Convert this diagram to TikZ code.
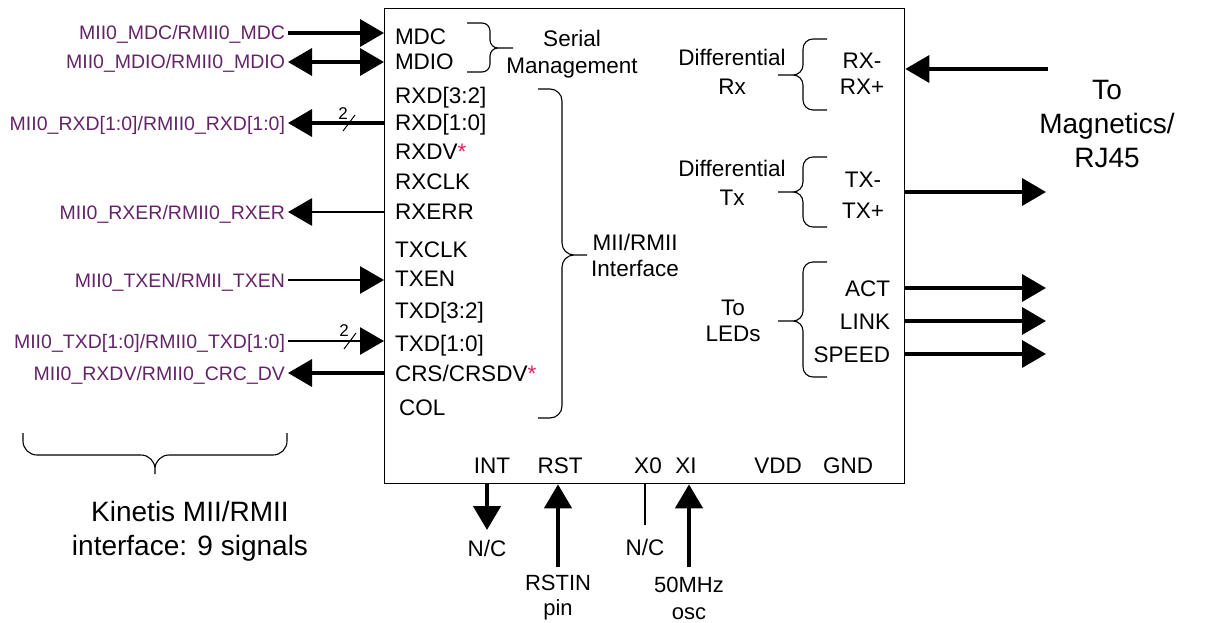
\documentclass[tikz,border=0pt]{standalone}
\usepackage{fontspec}
\setmainfont{Liberation Sans}
\usepackage{xcolor}
\usepackage{tikz}
\usetikzlibrary{positioning, calc, arrows.meta}

\definecolor{sigpurple}{RGB}{100,36,104}
\definecolor{starred}{RGB}{230,30,90}

\tikzset{
  pinlbl/.style={inner sep=0pt, outer sep=0pt, text height=16pt, text depth=0pt,
                 font=\fontsize{22.5}{27}\selectfont},
  siglbl/.style={anchor=east, inner sep=0pt, outer sep=3pt, text height=14pt, text depth=0pt,
                 text=sigpurple, font=\fontsize{19.5}{23}\selectfont},
  note/.style={anchor=north, align=center, inner sep=0pt, font=\fontsize{22.5}{27}\selectfont},
  buswidth/.style={inner sep=0pt, font=\fontsize{17}{17}\selectfont},
  bus/.style={line width=3.5pt},
  wire/.style={line width=2.8pt},
  vbus/.style={line width=4.5pt},
  bracket/.style={line width=1.1pt, rounded corners=10pt},
}

\begin{document}
\begin{tikzpicture}[x=1pt, y=-1pt, >={Triangle[length=24pt,width=27pt]}]
\useasboundingbox (0,0) rectangle (1209,623);

    % --- PHY chip outline ---
    \node[draw, line width=1.3pt, minimum width=520pt, minimum height=475pt,
          inner sep=0pt, anchor=north west] (chip) at (384,8) {};

    % --- Pin names, left column of the chip ---
    \node[pinlbl, anchor=west] (mdc)   at (395,37)  {MDC};
    \node[pinlbl, anchor=west] (mdio)  at (395,62)  {MDIO};
    \node[pinlbl, anchor=west] (rxdhi) at (395,95)  {RXD[3:2]};
    \node[pinlbl, anchor=west] (rxdlo) at (395,123) {RXD[1:0]};
    \node[pinlbl, anchor=west] (rxdv)  at (395,151) {RXDV\textcolor{starred}{*}};
    \node[pinlbl, anchor=west] (rxclk) at (395,181) {RXCLK};
    \node[pinlbl, anchor=west] (rxerr) at (395,211) {RXERR};
    \node[pinlbl, anchor=west] (txclk) at (395,249) {TXCLK};
    \node[pinlbl, anchor=west] (txen)  at (395,278) {TXEN};
    \node[pinlbl, anchor=west] (txdhi) at (395,310) {TXD[3:2]};
    \node[pinlbl, anchor=west] (txdlo) at (395,343) {TXD[1:0]};
    \node[pinlbl, anchor=west] (crs)   at (395,373) {CRS/CRSDV\textcolor{starred}{*}};
    \node[pinlbl, anchor=west] (col)   at (399,407) {COL};

    % --- Serial management group ---
    \draw[bracket, rounded corners=8pt] (467,23) -- (490,23) -- (490,48) -- (513,48)
                                        (513,48) -- (490,48) -- (490,72) -- (467,72);
    \node[note] (serial) at (572,30) {Serial\\Management};

    % --- MII/RMII group ---
    \draw[bracket, rounded corners=12pt] (538,89) -- (562,89) -- (562,255) -- (587,255)
                                         (587,255) -- (562,255) -- (562,418) -- (538,418);
    \node[note, font=\fontsize{22.5}{26}\selectfont] (miilbl) at (635,234) {MII/RMII\\Interface};

    % --- Kinetis side signals ---
    \node[siglbl] (smdc)  at (288,33)  {MII0\_MDC/RMII0\_MDC};
    \node[siglbl] (smdio) at (288,62)  {MII0\_MDIO/RMII0\_MDIO};
    \node[siglbl] (srxd)  at (288,123) {MII0\_RXD[1:0]/RMII0\_RXD[1:0]};
    \node[siglbl] (srxer) at (288,212) {MII0\_RXER/RMII0\_RXER};
    \node[siglbl] (stxen) at (288,280) {MII0\_TXEN/RMII\_TXEN};
    \node[siglbl] (stxd)  at (288,341) {MII0\_TXD[1:0]/RMII0\_TXD[1:0]};
    \node[siglbl] (srxdv) at (288,373) {MII0\_RXDV/RMII0\_CRC\_DV};

    \draw[bus,->]  (smdc)  -- (smdc -| chip.west);
    \draw[bus,<->] (smdio) -- (smdio -| chip.west);
    \draw[bus,<-]  (srxd)  -- (srxd -| chip.west);
    \draw[wire,<-] (srxer) -- (srxer -| chip.west);
    \draw[wire,->] (stxen) -- (stxen -| chip.west);
    \draw[wire,->] (stxd)  -- (stxd -| chip.west);
    \draw[bus,<-]  (srxdv) -- (srxdv -| chip.west);

    % 2-bit bus marks
    \coordinate (rxdmark) at (349,123);
    \draw[line width=1pt] ([shift={(-6,8)}]rxdmark) -- ([shift={(6,-8)}]rxdmark);
    \node[buswidth] at ([shift={(-6,-9)}]rxdmark) {2};
    \coordinate (txdmark) at (350,341);
    \draw[line width=1pt] ([shift={(-6,8)}]txdmark) -- ([shift={(6,-8)}]txdmark);
    \node[buswidth] at ([shift={(-6,-10)}]txdmark) {2};

    % --- Kinetis group ---
    \draw[bracket, rounded corners=14pt] (23,433) -- (23,455) -- (155,455) -- (155,474)
                                         (155,474) -- (155,455) -- (287,455) -- (287,433);
    \node[note, font=\fontsize{28}{34}\selectfont] (kinetis) at (190,501)
        {Kinetis MII/RMII\\interface: 9 signals};

    % --- Differential receive pair ---
    \node[note, font=\fontsize{22.5}{29}\selectfont] (diffrx) at (732,49) {Differential\\Rx};
    \node[note, font=\fontsize{22.5}{26}\selectfont] (rxpair) at (862,53) {RX-\\RX+};
    \draw[bracket] (827,39) -- (803,39) -- (803,75) -- (778,75)
                   (778,75) -- (803,75) -- (803,110) -- (827,110);
    \coordinate (rxsrc) at (1048,69);
    \draw[bus,->] (rxsrc) -- (rxsrc -| chip.east);

    % --- Differential transmit pair ---
    \node[note, font=\fontsize{22.5}{29}\selectfont] (difftx) at (732,160) {Differential\\Tx};
    \node[note, font=\fontsize{22.5}{31}\selectfont] (txpair) at (863,172) {TX-\\TX+};
    \draw[bracket] (827,157) -- (803,157) -- (803,192) -- (778,192)
                   (778,192) -- (803,192) -- (803,227) -- (827,227);
    \coordinate (txdst) at (1046,192);
    \draw[bus,->] (txdst -| chip.east) -- (txdst);

    % --- LED outputs ---
    \node[note, font=\fontsize{22.5}{26}\selectfont] (leds) at (733,300) {To\\LEDs};
    \node[pinlbl, anchor=east] (act)   at (890,288) {ACT};
    \node[pinlbl, anchor=east] (link)  at (890,321) {LINK};
    \node[pinlbl, anchor=east] (speed) at (890,354) {SPEED};
    \draw[bracket] (827,262) -- (803,262) -- (803,321) -- (778,321)
                   (778,321) -- (803,321) -- (803,377) -- (827,377);
    \coordinate (ledend) at (1046,0);
    \draw[bus,->] (act -| chip.east)   -- (act -| ledend);
    \draw[bus,->] (link -| chip.east)  -- (link -| ledend);
    \draw[bus,->] (speed -| chip.east) -- (speed -| ledend);

    \node[note, font=\fontsize{28}{34}\selectfont] (magn) at (1107,80) {To\\Magnetics/\\RJ45};

    % --- Bottom pins ---
    \node[pinlbl] (int) at (492,465) {INT};
    \node[pinlbl] (rst) at (560,465) {RST};
    \node[pinlbl] (xo)  at (648,465) {X0};
    \node[pinlbl] (xi)  at (686,465) {XI};
    \node[pinlbl] (vdd) at (778,465) {VDD};
    \node[pinlbl] (gnd) at (848,465) {GND};

    \node[pinlbl] (intnc) at (487,548) {N/C};
    \node[pinlbl] (xonc)  at (645,547) {N/C};
    \node[note, font=\fontsize{22}{25}\selectfont] (rstin) at (558,575) {RSTIN\\pin};
    \node[note, font=\fontsize{22}{27}\selectfont] (osc)   at (689,577) {50MHz\\osc};

    \draw[vbus,->] (intnc |- chip.south) -- ([yshift=10pt]intnc.north);
    \draw[vbus,->] ([yshift=8pt]rstin.north) -- (rstin.north |- chip.south);
    \draw[line width=1.3pt] (xonc |- chip.south) -- ([yshift=14pt]xonc.north);
    \draw[vbus,->] ([yshift=10pt]osc.north) -- (osc.north |- chip.south);

\end{tikzpicture}
\end{document}
